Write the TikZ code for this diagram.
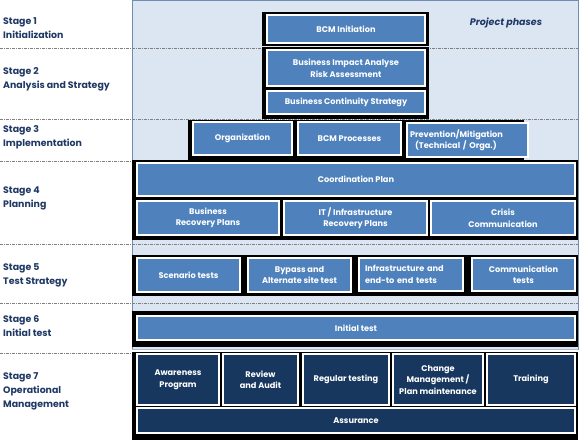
\documentclass[tikz,border=0pt]{standalone}
\usepackage{fontspec}
\setmainfont{Poppins}
\definecolor{panelfill}{HTML}{DCE6F2}
\definecolor{panelline}{HTML}{6F8CB2}
\definecolor{boxblue}{HTML}{4F81BD}
\definecolor{boxdark}{HTML}{17375E}
\definecolor{navy}{HTML}{1F3864}
\definecolor{dashgray}{HTML}{7F7F7F}
\tikzset{
  bluebox/.style={draw=white, fill=boxblue, line width=1.2pt, text=white, align=center, inner sep=1pt,
    font=\fontsize{8.2}{11.5}\selectfont\bfseries},
  darkbox/.style={bluebox, fill=boxdark},
  stagetext/.style={anchor=base west, inner sep=0pt, text=navy, font=\fontsize{9.4}{14}\selectfont\bfseries},
  sepline/.style={draw=dashgray, line width=0.6pt, dash pattern=on 3pt off 1pt on 1pt off 1pt},
}
\begin{document}
\begin{tikzpicture}[x=1pt,y=-1pt]
\useasboundingbox (0,0) rectangle (580,441);
% panel
\fill[panelfill] (132,1) rectangle (578,350);
\draw[panelline, line width=1pt] (132,350) -- (132,1) -- (578,1) -- (578,350);
\draw[panelline!60, line width=0.6pt] (132,349.5) -- (578,349.5);
% separators
\foreach \yy in {48,119,161,244,303,353} \draw[sepline] (0,\yy) -- (578,\yy);
% black backgrounds
\fill[black] (262,12) rectangle (429,46);
\fill[black] (262,47) rectangle (429,119);
\fill[black] (188,120) rectangle (524,160);
\fill[black] (132,160) rectangle (578,240);
\fill[black] (132,255) rectangle (578,296);
\fill[black] (132,311) rectangle (578,347);
\fill[black] (132,352) rectangle (578,440);
% stage labels
\node[stagetext] (s1a) at (3,25) {Stage 1};
\node[stagetext] (s1b) at (3,38.5) {Initialization};
\node[stagetext] (s2a) at (3,75) {Stage 2};
\node[stagetext] (s2b) at (3,88.5) {Analysis and Strategy};
\node[stagetext] (s3a) at (3,132) {Stage 3};
\node[stagetext] (s3b) at (3,146) {Implementation};
\node[stagetext] (s4a) at (3,193) {Stage 4};
\node[stagetext] (s4b) at (3,207) {Planning};
\node[stagetext] (s5a) at (3,270) {Stage 5};
\node[stagetext] (s5b) at (3,284) {Test Strategy};
\node[stagetext] (s6a) at (3,322) {Stage 6};
\node[stagetext] (s6b) at (3,336) {Initial test};
\node[stagetext] (s7a) at (3,379) {Stage 7};
\node[stagetext] (s7b) at (3,393) {Operational};
\node[stagetext] (s7c) at (3,407) {Management};
\node[text=navy, font=\fontsize{9.5}{12}\selectfont\bfseries\itshape, inner sep=0pt] (phases) at (506,23) {Project phases};
% stage 1
\node[bluebox, minimum width=158pt, minimum height=28pt] (init) at (346,29) {BCM Initiation};
% stage 2
\node[bluebox, minimum width=158pt, minimum height=36pt] (bia) at (346,68) {Business Impact Analyse\\Risk Assessment};
\node[bluebox, minimum width=158pt, minimum height=23pt] (bcs) at (346,102.5) {Business Continuity Strategy};
% stage 3
\node[bluebox, minimum width=99pt, minimum height=33pt] (org) at (242.5,138.5) {Organization};
\node[bluebox, minimum width=103pt, minimum height=33pt] (proc) at (349.5,138.5) {BCM Processes};
\node[bluebox, minimum width=121pt, minimum height=34pt, align=left, text width=115pt, inner xsep=3pt] (prev) at (467.5,140) {Prevention/Mitigation\\\hspace*{5pt}(Technical / Orga.)};
% stage 4
\node[bluebox, minimum width=438pt, minimum height=33pt] (coord) at (356,179.5) {Coordination Plan};
\node[bluebox, minimum width=142pt, minimum height=34pt] (brp) at (208,218) {Business\\Recovery Plans};
\node[bluebox, minimum width=143pt, minimum height=34pt] (itrp) at (355.5,218) {IT / Infrastructure\\Recovery Plans};
\node[bluebox, minimum width=144pt, minimum height=34pt] (crisis) at (503,218) {Crisis\\Communication};
% stage 5
\node[bluebox, minimum width=103pt, minimum height=34pt] (scen) at (188.5,275) {Scenario tests};
\node[bluebox, minimum width=103pt, minimum height=34pt] (bypass) at (299.5,275) {Bypass and\\Alternate site test};
\node[bluebox, minimum width=104pt, minimum height=33pt, align=left, text width=92pt, inner xsep=6pt] (infra) at (411,274.5) {Infrastructure and\\end-to end tests};
\node[bluebox, minimum width=103pt, minimum height=33pt] (comm) at (523.5,274.5) {Communication\\tests};
% stage 6
\node[bluebox, minimum width=438pt, minimum height=24pt] (itest) at (356,328) {Initial test};
% stage 7
\node[darkbox, minimum width=82pt, minimum height=51pt] (aware) at (178,379.5) {Awareness\\Program};
\node[darkbox, minimum width=75pt, minimum height=51pt] (review) at (260.5,379.5) {Review\\and Audit};
\node[darkbox, minimum width=86pt, minimum height=51pt] (regular) at (346,379.5) {Regular testing};
\node[darkbox, minimum width=90pt, minimum height=51pt] (change) at (438,379.5) {Change\\Management /\\Plan maintenance};
\node[darkbox, minimum width=88pt, minimum height=51pt] (training) at (531,379.5) {Training};
\node[darkbox, minimum width=438pt, minimum height=25pt] (assur) at (356,420.5) {Assurance};
\end{tikzpicture}
\end{document}
